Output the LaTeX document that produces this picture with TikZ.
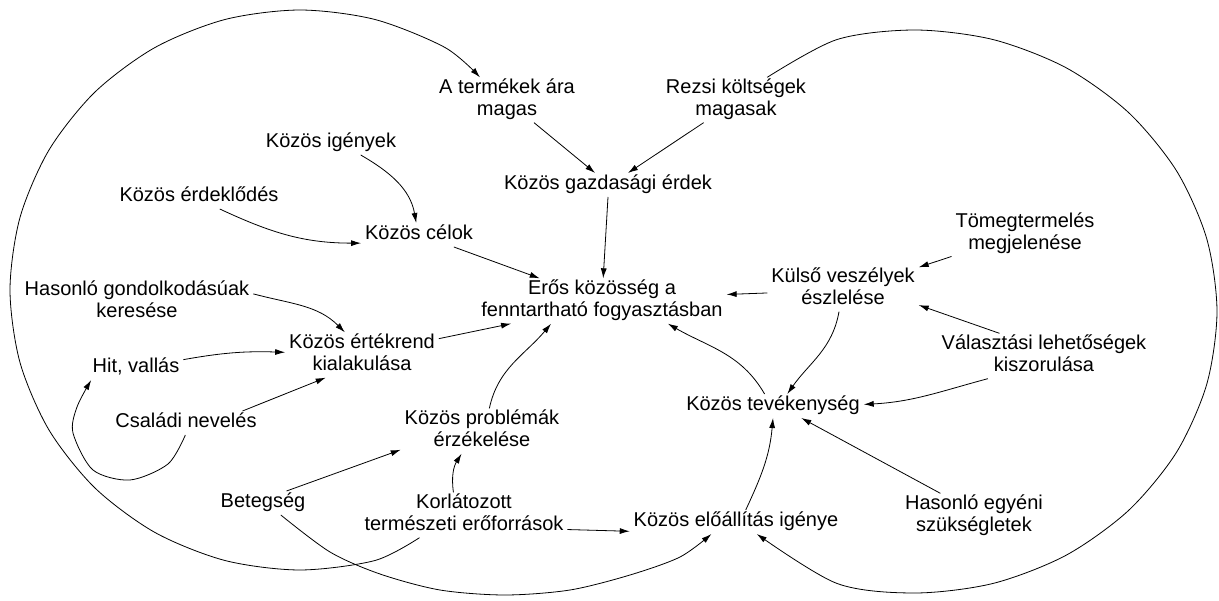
\documentclass[tikz,border=0pt]{standalone}
\usepackage{fontspec}
\setmainfont{Liberation Sans}
\usetikzlibrary{arrows.meta}
\begin{document}
\begin{tikzpicture}[x=1pt,y=-1pt,
  lbl/.style={font=\fontsize{20}{22}\selectfont, align=center, inner xsep=4pt, inner ysep=1pt, outer sep=0pt,
    execute at begin node=\strut, execute at end node=\strut, text=black},
  arr/.style={-{Latex[length=10pt,width=6pt]}, line width=0.8pt, draw=black}]
\useasboundingbox (0,0) rectangle (1219,601);

% nodes
\node[lbl] (tA)   at (507,100) {A termékek ára\\magas};
\node[lbl] (tR)   at (736,100) {Rezsi költségek\\magasak};
\node[lbl] (tKI)  at (331,143) {Közös igények};
\node[lbl] (tG)   at (608,185) {Közös gazdasági érdek};
\node[lbl] (tKE)  at (199,197) {Közös érdeklődés};
\node[lbl] (tC)   at (419,235) {Közös célok};
\node[lbl] (tT)   at (1025,234) {Tömegtermelés\\megjelenése};
\node[lbl] (tK)   at (843,289) {Külső veszélyek\\észlelése};
\node[lbl] (tE)   at (602,301) {Erős közösség a\\fenntartható fogyasztásban};
\node[lbl] (tH)   at (137,302) {Hasonló gondolkodásúak\\keresése};
\node[lbl] (tV)   at (362,355) {Közös értékrend\\kialakulása};
\node[lbl] (tHit) at (136,368) {Hit, vallás};
\node[lbl] (tVal) at (1044,356) {Választási lehetőségek\\kiszorulása};
\node[lbl] (tTev) at (773,406) {Közös tevékenység};
\node[lbl] (tCs)  at (186,423) {Családi nevelés};
\node[lbl] (tP)   at (482,431) {Közös problémák\\érzékelése};
\node[lbl] (tB)   at (263,503) {Betegség};
\node[lbl] (tKo)  at (464,515) {Korlátozott\\természeti erőforrások};
\node[lbl] (tEl)  at (736,522) {Közös előállítás igénye};
\node[lbl] (tHe)  at (974,516) {Hasonló egyéni\\szükségletek};

% straight and gently curved connectors
\draw[arr] (tA.-40) -- (tG.137);
\draw[arr] (tR.215) -- (tG.31);
\draw[arr] (tG.south) -- (tE.87);
\draw[arr] (tC.-19) -- (tE.160);
\draw[arr] (tKI.-22) to[out=-30,in=100] (tC.103);
\draw[arr] (tKE.-30) to[out=-25,in=180] (tC.188);
\draw[arr] (tH.4) to[out=-15,in=135] (tV.127);
\draw[arr] (tHit.10) to[bend left=6] (tV.178);
\draw[arr] (tCs.12) -- (tV.212);
\draw[arr] (tV.12) -- (tE.194);
\draw[arr] (tP.72) to[out=78,in=-130] (tE.204);
\draw[arr] (tB.27) -- (tP.193);
\draw[arr] (tKo.115) to[bend left=20] (tP.228);
\draw[arr] (tKo.-8) -- (tEl.185);
\draw[arr] (tEl.51) to[out=65,in=-95] (tTev.south);
\draw[arr] (tHe.146) -- (tTev.-23);
\draw[arr] (tVal.202) to[out=195,in=3] (tTev.1);
\draw[arr] (tVal.153) -- (tK.-12);
\draw[arr] (tK.-100) to[out=-100,in=55] (tTev.40);
\draw[arr] (tTev.125) to[out=120,in=-30] (tE.-19);
\draw[arr] (tK.183) -- (tE.3);
\draw[arr] (tT.197) -- (tK.16);

% small loop: Családi nevelés -> Hit, vallás
\draw[arr] plot[smooth] coordinates {(tCs.-93) (168,464) (130,480) (93,470) (73,433) (77,407) (tHit.195)};

% Betegség -> Közös előállítás igénye
\draw[arr] plot[smooth] coordinates {(tB.-34) (330,552) (380,574) (440,590) (505,595) (570,590) (630,575) (680,557) (tEl.206)};

% big left arc: Korlátozott természeti erőforrások -> A termékek ára magas
\draw[arr] plot[smooth] coordinates {(tKo.207) (375,560.5) (300,570) (225,560.5) (155,532.5) (95,488) (49,430) (20,362.5) (10,290) (20,217.5) (49,150) (95,92) (155,47.5) (225,19.5) (300,10) (375,19.5) (445,47.5) (tA.140)};

% big right arc: Rezsi költségek magasak -> Közös előállítás igénye
\draw[arr] plot[smooth] coordinates {(tR.36) (836.8,39.6) (915,30) (993.2,39.6) (1066,67.7) (1128.5,112.5) (1176.5,170.8) (1206.7,238.6) (1217,311.5) (1206.7,384.4) (1176.5,452.3) (1128.5,510.5) (1066,555.3) (993.2,583.4) (915,593) (836.8,583.4) (tEl.-30)};
\end{tikzpicture}
\end{document}
